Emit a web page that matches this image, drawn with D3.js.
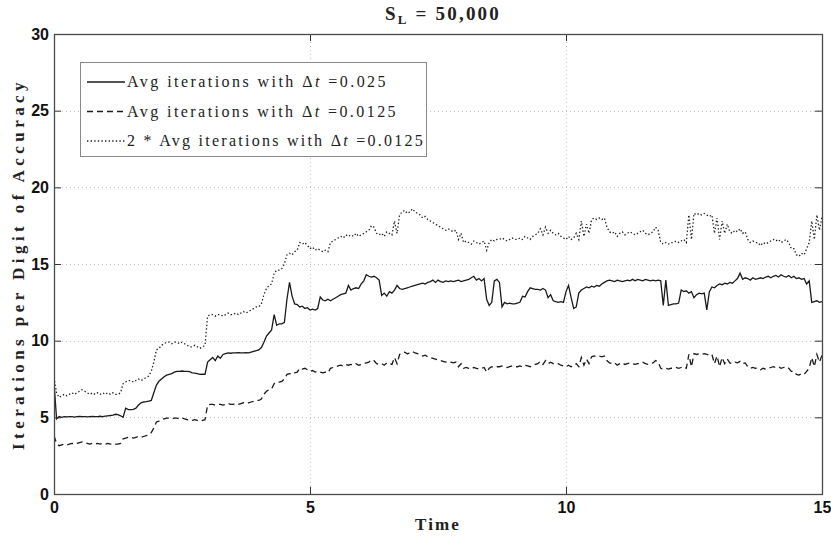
<!DOCTYPE html>
<html>
<head>
<meta charset="utf-8">
<script src="https://cdn.jsdelivr.net/npm/d3@7/dist/d3.min.js"></script>
<style>
  body { margin: 0; background: #fff; }
  svg { display: block; }
</style>
</head>
<body>
<svg id="chart" width="831" height="536"></svg>
<script>
// Sampling interval of the recorded averages (time units)
const timeStep = 0.05;

// Average iterations per digit of accuracy, Δt = 0.025 (one row per time unit)
const avgCoarse = [
  7.3,4.9,5.05,5.0,5.05,5.03,5.05,5.04,5.02,5.05,5.06,5.04,5.05,5.03,5.05,5.06,5.04,5.05,5.07,5.05,
  5.08,5.1,5.12,5.15,5.2,5.18,5.1,5.0,5.6,5.5,5.5,5.52,5.6,5.8,5.95,6.0,6.02,6.05,6.1,6.6,
  7.1,7.35,7.5,7.65,7.75,7.8,7.85,7.95,8.0,8.0,8.02,8.0,8.0,7.98,7.9,7.88,7.85,7.8,7.82,7.8,
  8.6,8.75,8.9,8.7,9.0,8.85,9.1,9.15,9.2,9.18,9.2,9.2,9.22,9.2,9.2,9.22,9.2,9.25,9.3,9.35,
  9.4,9.55,9.9,10.3,10.5,10.7,11.7,11.0,11.1,11.1,11.2,12.7,13.8,12.9,12.4,12.35,12.2,12.25,12.1,12.15,
  12.0,12.05,12.0,12.1,12.85,12.65,12.6,12.7,12.6,12.7,12.8,12.9,13.0,13.05,13.1,13.6,13.3,13.4,13.45,13.4,
  13.7,13.9,14.3,14.2,14.15,14.2,14.1,13.95,12.95,13.1,12.9,13.2,13.1,13.3,13.6,13.4,13.35,13.4,13.45,13.5,
  13.55,13.6,13.65,13.7,13.75,13.7,13.8,13.85,13.95,13.8,13.95,13.85,13.8,13.9,13.85,13.9,13.85,13.9,13.95,13.85,
  13.9,13.95,14.0,14.1,14.2,13.95,14.05,13.9,14.05,12.7,12.3,12.5,13.9,14.0,13.8,12.2,12.5,12.4,12.45,12.4,
  12.4,12.45,12.5,12.9,12.85,13.2,13.45,13.4,13.35,13.35,13.3,13.4,13.3,12.8,13.0,12.6,12.55,12.5,12.55,12.5,
  13.2,13.6,12.8,12.1,12.2,13.1,13.3,13.4,13.5,13.45,13.55,13.5,13.6,13.55,13.7,13.8,13.9,13.95,13.9,13.85,
  13.95,13.9,13.85,13.9,13.95,13.9,14.0,13.9,14.0,13.95,13.9,14.0,13.95,13.9,13.95,13.9,13.95,13.9,12.3,13.95,
  12.3,12.35,12.4,12.4,12.45,13.3,13.2,13.25,13.1,13.2,12.8,13.0,13.1,13.05,13.1,12.0,13.2,13.5,13.45,13.6,
  13.7,13.65,13.75,13.7,13.8,13.75,13.9,14.05,14.4,14.0,14.1,14.05,13.95,14.1,14.0,14.05,14.1,14.05,14.15,14.2,
  14.1,14.2,14.25,14.15,14.3,14.2,14.15,14.25,14.1,14.2,14.05,14.1,14.0,14.05,13.7,13.9,12.5,12.55,12.6,12.5,
  12.55
];

// Average iterations per digit of accuracy, Δt = 0.0125
const avgFine = [
  3.8,3.3,3.15,3.2,3.25,3.2,3.25,3.3,3.25,3.3,3.35,3.4,3.35,3.3,3.25,3.3,3.25,3.3,3.25,3.3,
  3.25,3.3,3.25,3.3,3.25,3.25,3.3,3.6,3.65,3.7,3.7,3.65,3.7,3.75,3.7,3.75,3.8,3.85,4.0,4.3,
  4.7,4.75,4.85,4.9,4.95,4.95,4.9,4.95,4.95,4.9,4.95,4.9,4.85,4.8,4.8,4.85,4.8,4.75,4.8,4.85,
  5.8,5.85,5.85,5.8,5.85,5.85,5.8,5.85,5.9,5.85,5.85,5.9,5.85,5.9,5.95,5.9,5.95,6.0,6.05,6.1,
  6.1,6.2,6.5,6.7,6.8,6.85,7.2,7.3,7.3,7.35,7.5,7.8,7.85,7.8,7.9,7.95,8.2,8.15,8.2,8.1,
  8.0,8.05,7.95,8.0,7.95,7.9,7.95,7.9,8.2,8.25,8.3,8.35,8.4,8.35,8.45,8.4,8.45,8.4,8.5,8.4,
  8.45,8.5,8.55,8.6,8.75,8.7,8.5,8.45,8.5,8.4,8.55,8.5,8.45,8.9,8.5,9.1,9.2,9.25,9.15,9.2,
  9.3,9.2,9.15,9.1,9.0,9.05,8.95,8.9,8.85,8.8,8.75,8.7,8.65,8.6,8.65,8.6,8.55,8.6,8.3,8.5,
  8.2,8.25,8.2,8.15,8.25,8.2,8.15,8.2,8.25,7.95,8.2,8.3,8.25,8.3,8.3,8.35,8.3,8.25,8.3,8.35,
  8.3,8.3,8.35,8.3,8.4,8.35,8.3,8.4,8.45,8.5,8.65,8.45,8.7,8.5,8.6,8.5,8.45,8.5,8.4,8.35,
  8.3,8.4,8.3,8.35,8.5,8.3,8.9,8.4,8.8,8.5,8.95,9.0,8.95,9.0,8.95,9.0,8.7,8.55,8.5,8.55,
  8.4,8.5,8.55,8.45,8.5,8.55,8.5,8.45,8.5,8.55,8.6,8.5,8.45,8.5,8.55,8.7,8.6,8.2,8.15,8.2,
  8.15,8.2,8.2,8.25,8.2,8.25,8.3,8.2,9.1,8.3,9.15,9.1,9.15,9.1,9.15,9.1,9.05,9.1,8.5,9.0,
  8.3,8.9,8.5,8.8,8.55,8.5,8.6,8.55,8.65,8.5,8.55,8.3,8.2,8.25,8.2,8.2,8.1,8.2,8.15,8.2,
  8.25,8.3,8.25,8.3,8.2,8.25,8.3,8.2,8.0,8.0,7.8,7.75,7.85,7.8,8.0,8.2,8.9,8.3,9.1,8.6,
  9.05
];

// Third curve: twice the Δt = 0.0125 average, as named in its legend entry
const avgFineDoubled = avgFine.map(v => 2 * v);

const xTicks = [0, 5, 10, 15];
const yTicks = [0, 5, 10, 15, 20, 25, 30];
const legendLabels = [
  { lead: "Avg iterations with ", tail: " =0.025" },
  { lead: "Avg iterations with ", tail: " =0.0125" },
  { lead: "2 * Avg iterations with ", tail: " =0.0125" }
];

const svg = d3.select("#chart");
const plot = { left: 54, right: 822, top: 34, bottom: 494 };

const x = d3.scaleLinear().domain([0, 15]).range([plot.left, plot.right]);
const y = d3.scaleLinear().domain([0, 30]).range([plot.bottom, plot.top]);

const serif = "'Liberation Serif', 'DejaVu Serif', serif";
const sans = "'Liberation Sans', Arial, sans-serif";

// widen a text element's letter spacing so that it spans a given length
function fitWidth(sel, target) {
  const node = sel.node();
  const natural = node.getComputedTextLength();
  const n = node.textContent.length;
  if (n > 1) sel.attr("letter-spacing", ((target - natural) / n).toFixed(3));
}

// grid
const grid = svg.append("g").attr("stroke", "#c4c4c4").attr("stroke-width", 1)
  .attr("stroke-dasharray", "1,3");
grid.selectAll("line.v").data(xTicks.filter(t => t > 0 && t < 15)).join("line")
  .attr("x1", d => Math.round(x(d)) + 0.5).attr("x2", d => Math.round(x(d)) + 0.5)
  .attr("y1", plot.top).attr("y2", plot.bottom);
grid.selectAll("line.h").data(yTicks.filter(t => t > 0 && t < 30)).join("line")
  .attr("x1", plot.left).attr("x2", plot.right)
  .attr("y1", d => Math.round(y(d)) + 0.5).attr("y2", d => Math.round(y(d)) + 0.5);

// series lines
svg.append("clipPath").attr("id", "plot-clip").append("rect")
  .attr("x", plot.left).attr("y", plot.top)
  .attr("width", plot.right - plot.left).attr("height", plot.bottom - plot.top);

const line = d3.line().x((d, i) => x(i * timeStep)).y(d => y(d));
const lineGroup = svg.append("g").attr("clip-path", "url(#plot-clip)").attr("fill", "none");

const styles = [
  { data: avgCoarse, dash: null, color: "#1a1a1a", width: 1.3 },
  { data: avgFine, dash: "6,4", color: "#1a1a1a", width: 1.3 },
  { data: avgFineDoubled, dash: "1.4,2.2", color: "#222", width: 1.3 }
];
styles.forEach(s => {
  lineGroup.append("path").datum(s.data)
    .attr("d", line)
    .attr("stroke", s.color)
    .attr("stroke-width", s.width)
    .attr("stroke-dasharray", s.dash);
});

// axes with inward ticks on all four sides
function styleAxis(g, labels) {
  g.select(".domain").remove();
  g.selectAll(".tick line").attr("stroke", "#333");
  g.selectAll(".tick text")
    .attr("font-family", sans).attr("font-size", 16).attr("font-weight", "bold")
    .attr("fill", "#111");
  if (!labels) g.selectAll(".tick text").remove();
}

svg.append("g").attr("transform", `translate(0,${plot.bottom})`)
  .call(d3.axisBottom(x).tickValues(xTicks).tickFormat(d3.format("d"))
    .tickSizeInner(-7).tickSizeOuter(0).tickPadding(8))
  .call(g => styleAxis(g, true));
svg.append("g").attr("transform", `translate(0,${plot.top})`)
  .call(d3.axisTop(x).tickValues(xTicks).tickSizeInner(-7).tickSizeOuter(0))
  .call(g => styleAxis(g, false));
svg.append("g").attr("transform", `translate(${plot.left},0)`)
  .call(d3.axisLeft(y).tickValues(yTicks).tickFormat(d3.format("d"))
    .tickSizeInner(-7).tickSizeOuter(0).tickPadding(5))
  .call(g => styleAxis(g, true));
svg.append("g").attr("transform", `translate(${plot.right},0)`)
  .call(d3.axisRight(y).tickValues(yTicks).tickSizeInner(-7).tickSizeOuter(0))
  .call(g => styleAxis(g, false));

// axes box
svg.append("rect")
  .attr("x", plot.left + 0.5).attr("y", plot.top + 0.5)
  .attr("width", plot.right - plot.left).attr("height", plot.bottom - plot.top)
  .attr("fill", "none").attr("stroke", "#4a4a4a").attr("stroke-width", 1.3);

// title
const title = svg.append("text")
  .attr("x", 443).attr("y", 20).attr("text-anchor", "middle")
  .attr("font-family", serif).attr("font-size", 19).attr("font-weight", "bold")
  .attr("fill", "#222");
title.append("tspan").text("S");
title.append("tspan").attr("font-size", 13).attr("dy", 4).text("L");
title.append("tspan").attr("dy", -4).text(" = 50,000");
fitWidth(title, 116);

// axis labels
const xLabel = svg.append("text")
  .attr("x", (plot.left + plot.right) / 2).attr("y", 530).attr("text-anchor", "middle")
  .attr("font-family", serif).attr("font-size", 17).attr("font-weight", "bold")
  .attr("fill", "#222").text("Time");
fitWidth(xLabel, 46);

const yLabel = svg.append("text")
  .attr("transform", `translate(24,${(plot.top + plot.bottom) / 2}) rotate(-90)`)
  .attr("text-anchor", "middle")
  .attr("font-family", serif).attr("font-size", 17).attr("font-weight", "bold")
  .attr("fill", "#222").text("Iterations per Digit of Accuracy");
fitWidth(yLabel, 372);

// legend
const legend = svg.append("g");
legend.append("rect")
  .attr("x", 80.5).attr("y", 62.5).attr("width", 346).attr("height", 94)
  .attr("fill", "#fff").attr("stroke", "#8a8a8a").attr("stroke-width", 1);

const rowY = [82, 111.5, 141];
const rowWidth = [261, 271, 298];
legendLabels.forEach((lab, i) => {
  const s = styles[i];
  legend.append("line")
    .attr("x1", 87).attr("x2", 125).attr("y1", rowY[i]).attr("y2", rowY[i])
    .attr("stroke", s.color).attr("stroke-width", s.width)
    .attr("stroke-dasharray", s.dash);
  const t = legend.append("text")
    .attr("x", 127).attr("y", rowY[i] + 5)
    .attr("font-family", serif).attr("font-size", 16).attr("fill", "#222");
  t.append("tspan").text(lab.lead + "Δ");
  t.append("tspan").attr("font-style", "italic").text("t");
  t.append("tspan").text(lab.tail);
  fitWidth(t, rowWidth[i]);
});
</script>
</body>
</html>
